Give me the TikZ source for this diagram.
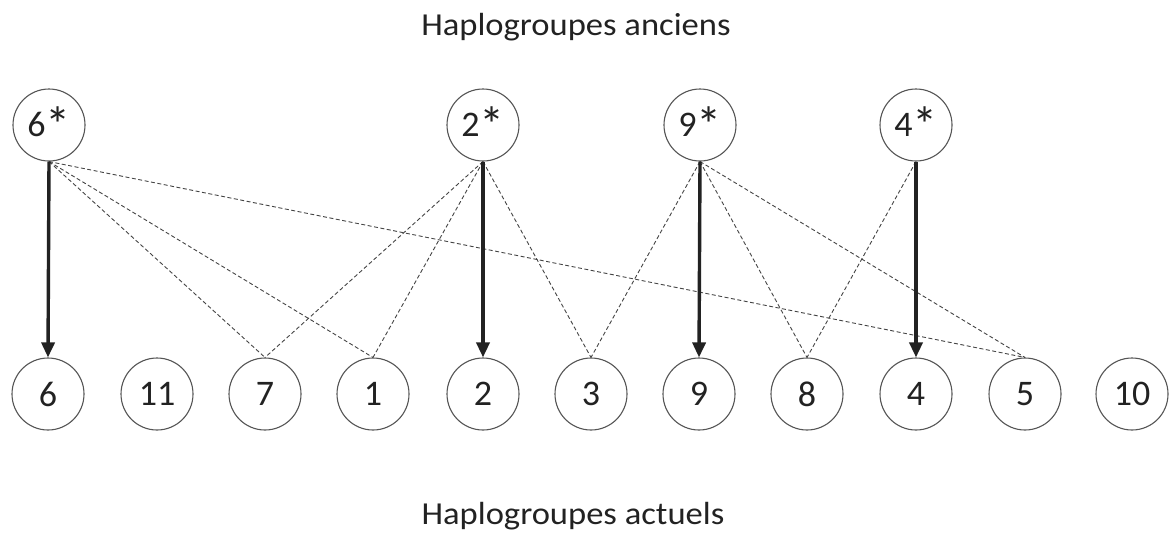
\documentclass[tikz,border=0pt]{standalone}
\usepackage{fontspec}
\setmainfont{Carlito}
\newfontfamily\titlefont[FakeStretch=1.08]{Carlito}
\usetikzlibrary{arrows.meta}
\definecolor{ink}{HTML}{222222}
\definecolor{rim}{HTML}{555555}
\definecolor{dash}{HTML}{444444}
\newcommand\hapstar{\raisebox{-0.17em}{\scalebox{1.4}{*}}}
\tikzset{
  hap/.style={circle, draw=rim, line width=1.1pt, minimum size=72pt, inner sep=0pt,
              font=\fontsize{36}{40}\selectfont, text=ink},
  title/.style={font=\titlefont\fontsize{32}{36}\selectfont, text=ink, anchor=base},
  descent/.style={line width=3.4pt, draw=ink, -{Triangle[length=15pt, width=13pt]}},
  link/.style={draw=dash, line width=0.9pt, dash pattern=on 4pt off 2.5pt}
}
\begin{document}
\begin{tikzpicture}[x=1pt,y=-1pt]
\useasboundingbox (0,0) rectangle (1169,533);
\node[title] (ta) at (576,35) {Haplogroupes anciens};
\node[title] (tb) at (573,524) {Haplogroupes actuels};
% ancient
\node[hap] (a6) at (49,125) {6\hapstar};
\node[hap] (a2) at (483,125) {2\hapstar};
\node[hap] (a9) at (700,125) {9\hapstar};
\node[hap] (a4) at (916,125) {4\hapstar};
% current
\node[hap] (c6) at (48,394) {6};
\node[hap] (c11) at (157,394) {11};
\node[hap] (c7) at (265,394) {7};
\node[hap] (c1) at (373,394) {1};
\node[hap] (c2) at (483,394) {2};
\node[hap] (c3) at (591,394) {3};
\node[hap] (c9) at (699,394) {9};
\node[hap] (c8) at (807,394) {8};
\node[hap] (c4) at (916,394) {4};
\node[hap] (c5) at (1025,394) {5};
\node[hap] (c10) at (1132,394) {10};
% dashed links
\draw[link] (a6.south) -- (c7.north);
\draw[link] (a6.south) -- (c1.north);
\draw[link] (a6.south) -- (c5.north);
\draw[link] (a2.south) -- (c7.north);
\draw[link] (a2.south) -- (c1.north);
\draw[link] (a2.south) -- (c3.north);
\draw[link] (a9.south) -- (c3.north);
\draw[link] (a9.south) -- (c8.north);
\draw[link] (a9.south) -- (c5.north);
\draw[link] (a4.south) -- (c8.north);
% thick arrows
\draw[descent] (a6.south) -- (c6.north);
\draw[descent] (a2.south) -- (c2.north);
\draw[descent] (a9.south) -- (c9.north);
\draw[descent] (a4.south) -- (c4.north);
\end{tikzpicture}
\end{document}
